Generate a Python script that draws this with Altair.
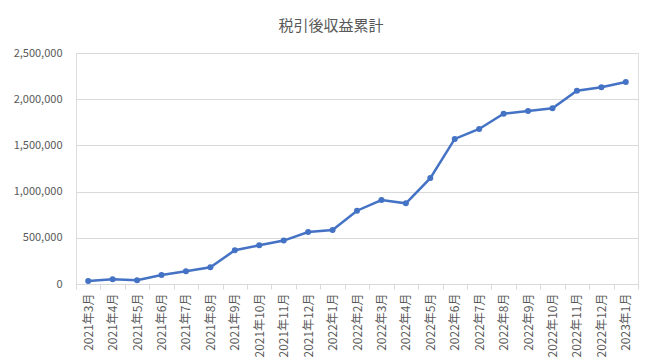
import altair as alt
import pandas as pd

months = ["2021年3月", "2021年4月", "2021年5月", "2021年6月", "2021年7月", "2021年8月",
          "2021年9月", "2021年10月", "2021年11月", "2021年12月", "2022年1月", "2022年2月",
          "2022年3月", "2022年4月", "2022年5月", "2022年6月", "2022年7月", "2022年8月",
          "2022年9月", "2022年10月", "2022年11月", "2022年12月", "2023年1月"]
values = [32000, 51000, 40000, 97000, 138000, 181000,
          365000, 419000, 470000, 563000, 585000, 793000,
          909000, 873000, 1146000, 1570000, 1678000, 1842000,
          1873000, 1902000, 2092000, 2130000, 2186000]

df = pd.DataFrame({"month": months, "value": values})

FONT = "Noto Sans CJK JP"
GRAY = "#595959"
LINE = "#d9d9d9"

x = alt.X("month:N", sort=months, title=None,
          scale=alt.Scale(type="band", paddingInner=0, paddingOuter=0),
          axis=alt.Axis(labelAngle=-90, labelFontSize=12, labelColor=GRAY, labelFont=FONT,
                        labelPadding=4, tickBand="extent", tickSize=5, tickColor=LINE,
                        tickWidth=1, domainColor=LINE, domainWidth=1, grid=False))
y = alt.Y("value:Q", title=None,
          scale=alt.Scale(domain=[0, 2500000], nice=False),
          axis=alt.Axis(values=[0, 500000, 1000000, 1500000, 2000000, 2500000], format=",d",
                        labelFontSize=11, labelColor=GRAY, labelFont=FONT, labelPadding=14,
                        ticks=False, domain=False, gridColor=LINE, gridWidth=1))

chart = alt.Chart(df).mark_line(
    color="#4472C4", strokeWidth=2.5,
    point=alt.OverlayMarkDef(color="#4472C4", size=36, filled=True)
).encode(x=x, y=y).properties(
    width=562, height=231,
    title=alt.Title("税引後収益累計", fontSize=15, color=GRAY, font=FONT, fontWeight="normal",
                    offset=13, dx=-26),
    padding={"left": 68, "top": 45, "right": 2, "bottom": 77},
    autosize=alt.AutoSizeParams(type="none"),
).configure_view(stroke=None).configure(background="white")

chart.save("out.html", embed_options={"renderer": "svg", "actions": False})
